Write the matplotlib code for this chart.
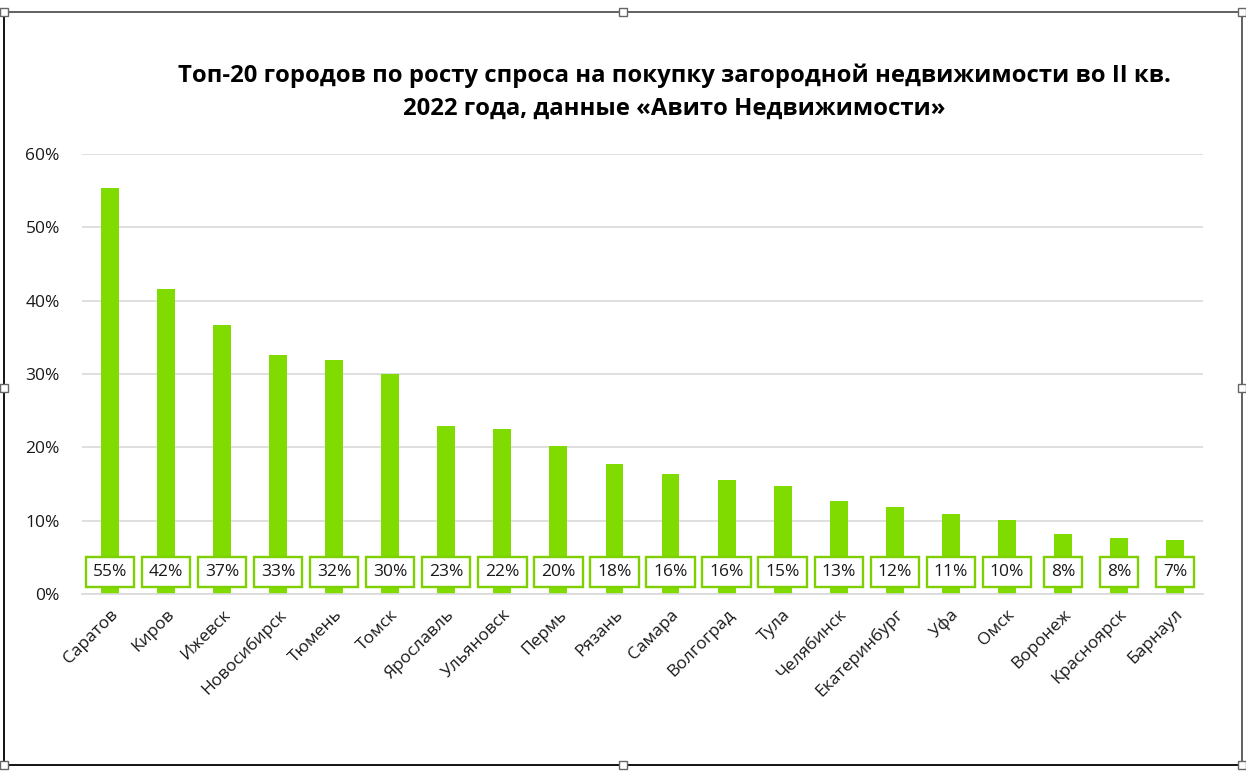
import matplotlib.pyplot as plt
from matplotlib.patches import Rectangle
from matplotlib.lines import Line2D
from matplotlib.ticker import FuncFormatter

plt.rcParams["font.family"] = ["Open Sans", "DejaVu Sans"]

# --- Data ---
cities = [
    "Саратов", "Киров", "Ижевск", "Новосибирск", "Тюмень", "Томск",
    "Ярославль", "Ульяновск", "Пермь", "Рязань", "Самара", "Волгоград",
    "Тула", "Челябинск", "Екатеринбург", "Уфа", "Омск", "Воронеж",
    "Красноярск", "Барнаул",
]
growth = [
    0.553, 0.416, 0.367, 0.326, 0.319, 0.300, 0.229, 0.225, 0.202, 0.177,
    0.164, 0.156, 0.147, 0.127, 0.118, 0.109, 0.101, 0.082, 0.077, 0.073,
]
yticks = [0.0, 0.1, 0.2, 0.3, 0.4, 0.5, 0.6]
title = ("Топ-20 городов по росту спроса на покупку загородной недвижимости во II кв.\n"
         "2022 года, данные «Авито Недвижимости»")

BAR_COLOR = "#80DC00"
EDGE_COLOR = "#7FD000"
GRID_COLOR = "#D9D9D9"

fig = plt.figure(figsize=(12.46, 7.78), dpi=100)
ax = fig.add_axes([82 / 1246, 1 - 594 / 778, (1203 - 82) / 1246, (594 - 154) / 778])

x = list(range(len(cities)))
ax.bar(x, growth, width=0.32, color=BAR_COLOR, zorder=2)

# data labels in boxes near the base of each bar
for xi, v in zip(x, growth):
    ax.text(
        xi, 0.0295, f"{round(v * 100):.0f}%",
        ha="center", va="center", fontsize=12.5, color="#1a1a1a", zorder=4,
        bbox=dict(boxstyle="square,pad=0.4", fc="white", ec=EDGE_COLOR, lw=1.7),
    )

ax.set_xlim(-0.5, len(cities) - 0.5)
ax.set_ylim(0, 0.6)
ax.set_yticks(yticks)
ax.yaxis.set_major_formatter(FuncFormatter(lambda v, _: f"{v * 100:.0f}%"))
ax.grid(axis="y", color=GRID_COLOR, lw=1.2, zorder=0)
for s in ["top", "right", "left"]:
    ax.spines[s].set_visible(False)
ax.spines["bottom"].set_color(GRID_COLOR)
ax.spines["bottom"].set_linewidth(1.2)
ax.tick_params(axis="y", length=0, pad=16, labelsize=12.5, labelcolor="#1a1a1a")
ax.tick_params(axis="x", length=0, pad=9)
ax.set_xticks(x)
ax.set_xticklabels(cities, rotation=45, ha="right", rotation_mode="anchor",
                   fontsize=12.5, color="#1a1a1a")

fig.text(674 / 1246, 1 - 92 / 778, title, ha="center", va="center",
         fontsize=17.2, fontweight="bold", linespacing=1.45)

# outer frame with selection handles
frame = dict(color="#555555", lw=1.3)
fig.add_artist(Line2D([4 / 1246, 1242 / 1246], [1 - 12 / 778, 1 - 12 / 778], **frame))
fig.add_artist(Line2D([4 / 1246, 1242 / 1246], [1 - 765 / 778, 1 - 765 / 778], color="black", lw=1.3))
fig.add_artist(Line2D([4 / 1246, 4 / 1246], [1 - 12 / 778, 1 - 765 / 778], color="black", lw=1.3))
fig.add_artist(Line2D([1242 / 1246, 1242 / 1246], [1 - 12 / 778, 1 - 765 / 778], **frame))
hs = 8
for hx in [4, 623, 1242]:
    for hy in [12, 388, 765]:
        if hx == 623 and hy == 388:
            continue
        fig.add_artist(Rectangle(((hx - hs / 2) / 1246, 1 - (hy + hs / 2) / 778),
                                 hs / 1246, hs / 778, fc="white", ec="#666666",
                                 lw=1, transform=fig.transFigure, zorder=5))

fig.savefig("out.png", dpi=100)
